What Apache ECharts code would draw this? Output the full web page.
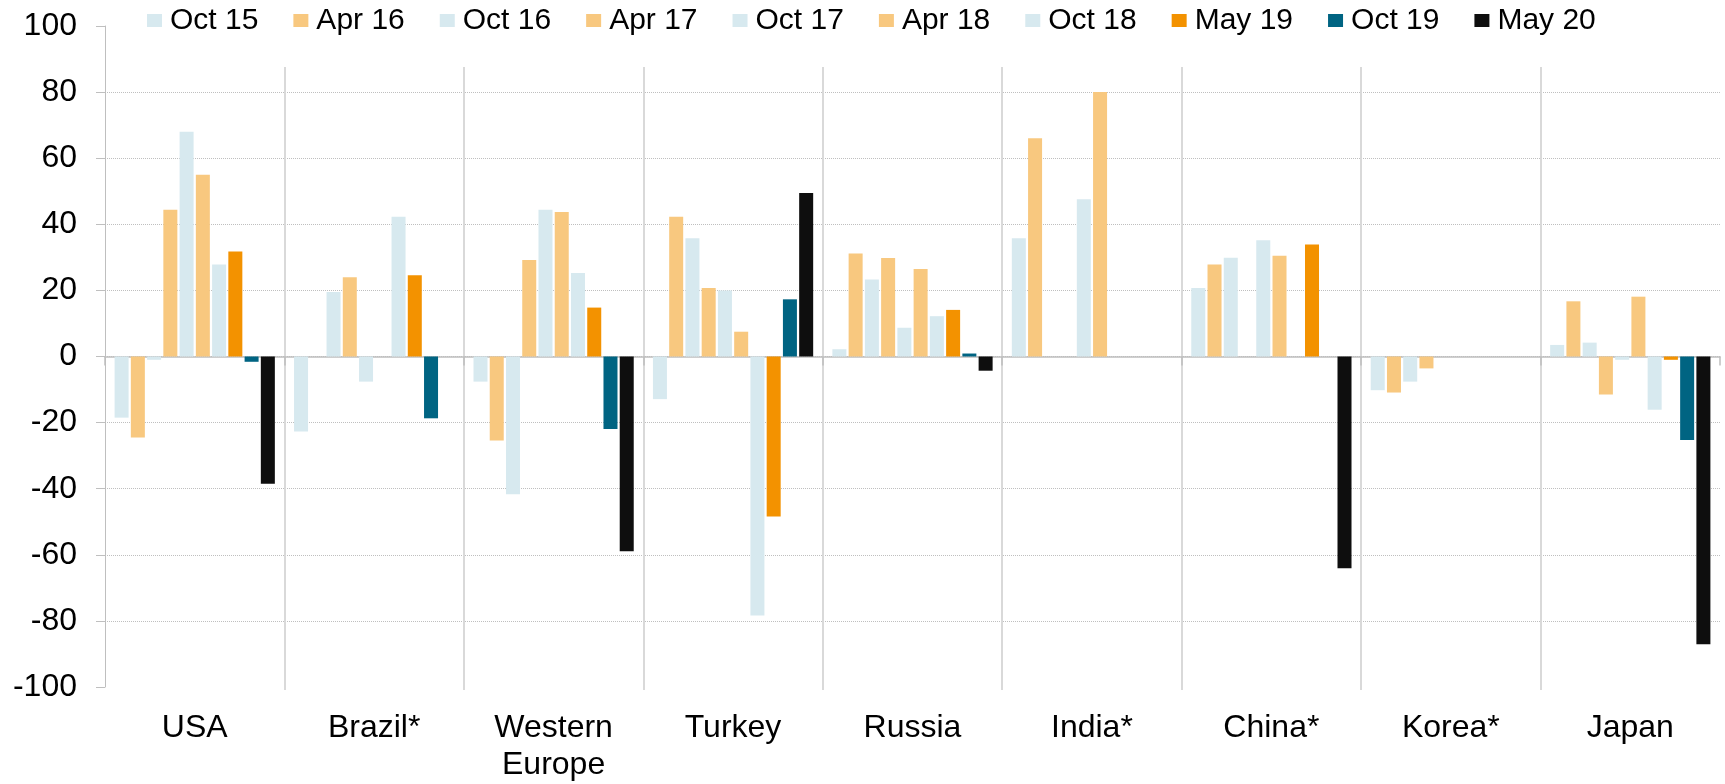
<!DOCTYPE html>
<html>
<head>
<meta charset="utf-8">
<title>Chart</title>
<style>
    html, body { margin: 0; padding: 0; background: #fff; }
    #main { width: 1725px; height: 784px; }
</style>
</head>
<body>
<div id="main"></div>
<script type="text/javascript" src="https://cdn.jsdelivr.net/npm/echarts@6/dist/echarts.min.js"></script>
<script type="text/javascript">
    // 数据
    var categories = ['USA', 'Brazil*', 'Western\nEurope', 'Turkey', 'Russia', 'India*', 'China*', 'Korea*', 'Japan'];
    var seriesNames = ['Oct 15', 'Apr 16', 'Oct 16', 'Apr 17', 'Oct 17', 'Apr 18', 'Oct 18', 'May 19', 'Oct 19', 'May 20'];
    var seriesColors = ['#d7e9ef', '#f8c87f', '#d7e9ef', '#f8c87f', '#d7e9ef', '#f8c87f', '#d7e9ef', '#f39200', '#006482', '#0e0e0e'];

    var oct15 = [-18.5, -22.7, -7.6, -12.9, 2.2, 35.8, 20.7, -10.2, 3.5];
    var apr16 = [-24.5, null, -25.4, 42.3, 31.2, 66.0, 27.8, -10.9, 16.7];
    var oct16 = [-1.0, 19.5, -41.7, 35.8, 23.3, null, 29.9, -7.6, 4.2];
    var apr17 = [44.4, 24.0, 29.2, 20.7, 29.8, null, null, -3.6, -11.5];
    var oct17 = [68.0, -7.6, 44.4, 20.0, 8.7, 47.6, 35.2, null, -1.0];
    var apr18 = [55.0, null, 43.7, 7.5, 26.5, 80.0, 30.5, null, 18.1];
    var oct18 = [27.8, 42.3, 25.3, -78.4, 12.2, null, null, null, -16.1];
    var may19 = [31.8, 24.6, 14.8, -48.4, 14.1, null, 33.9, null, -1.0];
    var oct19 = [-1.6, -18.7, -21.9, 17.3, 0.9, null, null, null, -25.3];
    var may20 = [-38.5, null, -58.9, 49.5, -4.3, null, -64.1, null, -87.1];
    var seriesData = [oct15, apr16, oct16, apr17, oct17, apr18, oct18, may19, oct19, may20];

    var yMin = -100, yMax = 100, yStep = 20;

    var font = "'Liberation Sans', Arial, sans-serif";
    var grey = '#bfbfbf';

    var chart = echarts.init(document.getElementById('main'));

    var series = [];
    for (var i = 0; i < seriesNames.length; i++) {
        series.push({
            name: seriesNames[i],
            type: 'bar',
            xAxisIndex: 0,
            yAxisIndex: 0,
            barGap: '16%',
            barCategoryGap: '10.7%',
            itemStyle: { color: seriesColors[i] },
            data: seriesData[i]
        });
    }

    var option = {
        animation: false,
        backgroundColor: '#fff',
        textStyle: { fontFamily: font },
        legend: {
            left: 147,
            top: 5,
            padding: 0,
            itemWidth: 15,
            itemHeight: 13,
            itemGap: 35,
            icon: 'rect',
            data: seriesNames,
            textStyle: { fontSize: 30, color: '#000', fontFamily: font, padding: [0, 0, 0, 3], lineHeight: 31 }
        },
        grid: [
            { left: 105, right: 5, top: 26, bottom: 94 },
            // 分隔线用
            { left: 105, right: 5, top: 67, bottom: 94 }
        ],
        xAxis: [
            {
                // 底部标签
                type: 'category',
                gridIndex: 0,
                position: 'bottom',
                data: categories,
                axisLine: { show: false, onZero: false },
                axisTick: { show: false },
                splitLine: { show: false },
                axisLabel: { fontSize: 32, color: '#000', fontFamily: font, lineHeight: 37, margin: 23 }
            },
            {
                // 零线
                type: 'category',
                gridIndex: 0,
                position: 'bottom',
                data: categories,
                axisLine: { show: true, onZero: true, lineStyle: { color: grey, width: 1.5 } },
                axisTick: { show: true, length: 9, lineStyle: { color: grey, width: 1.5 } },
                axisLabel: { show: false },
                splitLine: { show: false }
            },
            {
                type: 'category',
                gridIndex: 1,
                data: categories,
                axisLine: { show: false },
                axisTick: { show: false },
                axisLabel: { show: false },
                splitLine: { show: true, showMinLine: false, showMaxLine: false, lineStyle: { color: '#d9d9d9', width: 2 } }
            }
        ],
        yAxis: [
            {
                type: 'value',
                gridIndex: 0,
                min: yMin,
                max: yMax,
                interval: yStep,
                axisLine: { show: true, lineStyle: { color: grey, width: 1 } },
                axisTick: { show: true, length: 9, lineStyle: { color: grey } },
                axisLabel: { fontSize: 32, color: '#000', fontFamily: font, margin: 28 },
                splitLine: { show: true, showMinLine: false, showMaxLine: false, lineStyle: { color: grey, type: 'dotted', width: 1 } }
            },
            {
                type: 'value',
                gridIndex: 1,
                min: 0,
                max: 1,
                show: false
            }
        ],
        series: series
    };
    chart.setOption(option);
</script>
</body>
</html>
